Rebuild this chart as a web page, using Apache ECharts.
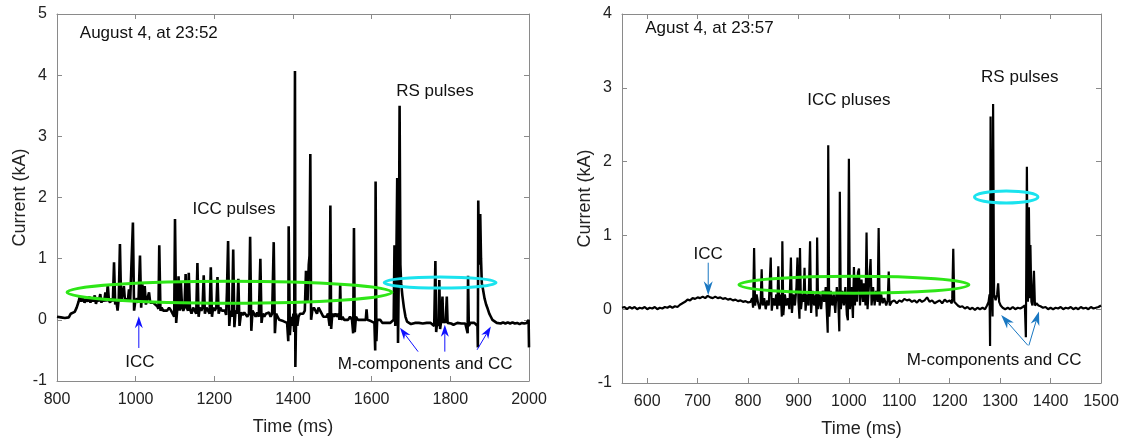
<!DOCTYPE html>
<html>
<head>
<meta charset="utf-8">
<script src="https://cdn.jsdelivr.net/npm/echarts@6/dist/echarts.min.js"></script>
<style>
html,body{margin:0;padding:0;background:#fff;}
#chart{width:1128px;height:443px;}
</style>
</head>
<body>
<div id="chart"></div>
<script>
// ---------------- DATA ----------------
// Left panel: August 4, at 23:52  [time (ms), current (kA)]
const leftData = [
[800,0.05],[805,0.08],[810,0.04],[815,0.06],[820,0.03],[825,0.05],[830,0.04],[835,0.1],[840,0.12],[845,0.13],[850,0.2],[855,0.3],[858,0.38],[862,0.3],[866,0.36],[870,0.28],[874,0.34],[878,0.3],[882,0.38],[885,0.28],[888,0.35],[892,0.3],[896,0.4],[899,0.26],[903,0.36],[906,0.3],[910,0.42],[913,0.28],[916,0.35],[920,0.3],[923,0.45],[926,0.3],[929,0.58],[932,0.32],[935,0.28],[938,0.35],[942,0.3],[945,0.94],[948,0.25],[951,0.3],[954,0.15],[957,0.35],[960,1.24],[963,0.3],[966,0.28],[970,0.55],[973,0.3],[976,0.35],[980,0.3],[983,0.5],[986,0.3],[990,0.28],[993,1.59],[996,0.15],[999,0.3],[1003,0.35],[1007,0.28],[1011,1.05],[1014,0.2],[1017,0.58],[1020,0.3],[1023,0.55],[1026,0.25],[1030,0.28],[1034,0.45],[1037,0.28],[1041,0.3],[1045,0.28],[1050,0.25],[1055,0.22],[1058,0.18],[1060,1.22],[1063,0.15],[1066,0.2],[1070,0.15],[1075,0.18],[1080,0.15],[1085,0.2],[1090,0.15],[1095,0.18],[1098,0.05],[1100,1.65],[1103,-0.05],[1106,0.2],[1109,0.71],[1112,0.15],[1115,0.6],[1118,0.2],[1121,0.15],[1124,0.2],[1127,0.75],[1130,0.2],[1133,0.15],[1135,0.77],[1138,0.18],[1142,0.1],[1146,0.2],[1150,0.15],[1154,0.1],[1157,0.93],[1160,0.05],[1163,0.2],[1167,0.15],[1170,0.2],[1173,0.73],[1176,0.1],[1180,0.2],[1184,0.15],[1188,0.1],[1191,0.86],[1194,0.05],[1197,0.2],[1201,0.15],[1205,0.2],[1208,0.7],[1211,0.1],[1215,0.2],[1219,0.15],[1223,0.18],[1227,0.15],[1230,0.08],[1232,0.45],[1235,1.29],[1238,-0.1],[1241,0.15],[1245,0.05],[1248,1.15],[1251,-0.12],[1254,0.15],[1258,0.1],[1261,0.67],[1264,-0.1],[1268,0.12],[1272,0.08],[1276,0.12],[1280,0.1],[1284,0.05],[1288,0.1],[1291,1.36],[1294,-0.18],[1297,0.15],[1301,0.1],[1305,0.05],[1309,0.12],[1313,0.05],[1317,1.0],[1320,-0.05],[1323,0.1],[1327,0.05],[1331,0.1],[1335,0.08],[1339,0.12],[1343,0.05],[1347,0.1],[1351,1.27],[1354,-0.22],[1357,0.1],[1361,0.05],[1365,0.0],[1370,0.0],[1375,-0.02],[1380,0.0],[1385,-0.05],[1388,-0.35],[1389,1.53],[1392,-0.25],[1395,0.05],[1398,-0.1],[1401,0.1],[1403,-0.2],[1405,4.07],[1406,-0.77],[1408,0.1],[1411,-0.1],[1414,0.05],[1418,0.1],[1422,0.12],[1426,0.1],[1430,0.15],[1433,0.8],[1435,0.83],[1437,0.3],[1440,0.9],[1442,1.05],[1444,2.71],[1446,0.0],[1449,0.15],[1453,0.2],[1457,0.15],[1461,0.1],[1465,0.2],[1469,0.15],[1473,0.1],[1477,0.05],[1481,0.08],[1485,0.05],[1489,0.1],[1493,-0.1],[1495,1.87],[1497,-0.15],[1500,0.1],[1504,0.05],[1508,0.1],[1512,0.05],[1516,0.1],[1518,0.0],[1520,0.58],[1522,0.0],[1526,0.05],[1530,0.0],[1535,0.03],[1540,0.0],[1545,0.05],[1550,0.0],[1553,-0.22],[1555,1.5],[1557,-0.2],[1560,0.05],[1565,0.0],[1570,0.03],[1575,0.0],[1580,0.02],[1585,0.0],[1587,0.17],[1589,0.0],[1593,0.02],[1598,-0.02],[1603,0.0],[1607,-0.05],[1609,-0.5],[1610,2.26],[1612,-0.35],[1614,0.0],[1618,-0.02],[1622,0.0],[1627,-0.05],[1632,-0.02],[1637,-0.05],[1642,-0.02],[1647,-0.05],[1652,-0.03],[1656,0.0],[1658,1.22],[1660,-0.1],[1662,0.5],[1665,2.32],[1667,-0.38],[1669,0.8],[1671,3.5],[1673,0.9],[1675,0.6],[1678,0.4],[1682,0.2],[1686,0.05],[1690,-0.03],[1695,-0.05],[1700,-0.07],[1710,-0.05],[1715,-0.08],[1720,-0.05],[1725,-0.08],[1730,-0.06],[1735,-0.08],[1740,-0.05],[1745,-0.07],[1750,-0.05],[1755,-0.06],[1759,-0.1],[1762,0.96],[1764,-0.2],[1767,0.0],[1770,-0.1],[1772,0.65],[1774,-0.15],[1777,0.0],[1780,0.38],[1782,-0.05],[1786,0.0],[1788,-0.05],[1791,0.38],[1793,-0.05],[1797,-0.08],[1802,-0.06],[1808,-0.08],[1813,-0.06],[1818,-0.05],[1823,-0.08],[1828,-0.06],[1833,-0.08],[1838,-0.06],[1842,-0.08],[1844,-0.22],[1845,0.72],[1847,-0.1],[1851,-0.05],[1856,-0.07],[1861,-0.05],[1866,-0.06],[1869,-0.1],[1870,-0.45],[1871,1.95],[1873,0.9],[1876,1.73],[1878,1.0],[1880,0.6],[1883,0.5],[1887,0.35],[1891,0.25],[1895,0.18],[1899,0.1],[1903,0.05],[1907,0.0],[1912,-0.03],[1918,-0.05],[1923,-0.03],[1928,-0.06],[1934,-0.04],[1940,-0.06],[1946,-0.04],[1952,-0.06],[1958,-0.04],[1964,-0.06],[1970,-0.05],[1976,-0.07],[1982,-0.05],[1988,-0.06],[1994,-0.05],[1998,-0.05],[1999,0.0],[2000,-0.45]
];
// Right panel: Agust 4, at 23:57  [time (ms), current (kA)]
const rightData = [
[550,0.02],[555,0.03],[560,0.0],[565,0.03],[570,0.01],[575,0.03],[580,0.0],[585,0.02],[590,0.01],[595,0.03],[600,0.0],[605,0.02],[610,0.01],[615,0.03],[620,0.0],[625,0.02],[630,0.01],[635,0.03],[640,0.02],[645,0.04],[650,0.02],[655,0.04],[660,0.03],[665,0.06],[670,0.08],[675,0.1],[680,0.13],[685,0.12],[690,0.15],[695,0.14],[700,0.16],[705,0.15],[710,0.17],[715,0.15],[720,0.18],[725,0.16],[730,0.15],[735,0.17],[740,0.15],[745,0.16],[750,0.14],[755,0.15],[760,0.13],[765,0.14],[770,0.12],[775,0.13],[780,0.11],[785,0.12],[790,0.1],[795,0.11],[800,0.09],[805,0.1],
[808,0.15],[810,0.02],[812,0.83],[814,0.05],[817,0.2],[820,0.08],[823,0.0],[825,0.1],[827,0.54],[829,0.05],[832,0.15],[835,0.0],[838,0.12],[841,0.05],[843,0.35],[845,0.7],[847,-0.02],[850,0.15],[853,0.05],[856,0.2],[858,0.0],[860,0.58],[862,0.05],[865,0.2],[867,-0.1],[868,0.92],[870,-0.08],[873,0.2],[876,0.05],[879,0.15],[882,0.0],[885,0.7],[887,-0.05],[890,0.2],[893,0.05],[896,0.3],[898,0.7],[900,0.1],[902,-0.13],[903,0.83],[905,0.0],[908,0.2],[910,0.1],[912,0.56],[914,-0.02],[917,0.2],[920,0.05],[923,0.92],[925,-0.05],[928,0.25],[931,0.05],[934,0.2],[936,-0.1],[937,0.97],[939,0.0],[942,0.2],[945,0.0],[948,0.25],[951,0.1],[954,0.3],[956,0.0],[958,-0.32],[959,2.22],[961,-0.1],[964,0.25],[967,0.05],[970,0.2],[973,-0.05],[976,0.3],[979,0.1],[981,-0.3],[982,1.59],[984,0.0],[987,0.25],[990,0.05],[993,0.3],[996,-0.08],[998,-0.15],[1000,2.04],[1002,0.0],[1005,0.3],[1008,-0.12],[1010,0.57],[1012,0.05],[1014,0.45],[1016,0.1],[1018,0.5],[1020,0.55],[1022,0.05],[1025,0.4],[1028,0.1],[1030,0.35],[1033,0.05],[1035,1.04],[1037,0.0],[1040,0.35],[1043,0.68],[1045,0.05],[1048,0.3],[1051,0.05],[1054,0.25],[1057,0.1],[1059,1.1],[1061,0.05],[1064,0.2],[1067,0.08],[1070,0.15],[1074,0.05],[1077,0.12],[1079,0.51],[1081,0.05],[1085,0.1],[1090,0.12],[1095,0.08],[1100,0.12],[1105,0.1],[1110,0.14],[1115,0.12],[1120,0.13],[1125,0.1],[1130,0.12],[1135,0.09],[1140,0.13],[1145,0.1],[1150,0.12],[1155,0.16],[1160,0.1],[1165,0.12],[1170,0.08],[1175,0.1],[1180,0.12],[1185,0.08],[1190,0.13],[1195,0.1],[1200,0.12],[1204,0.08],[1205,0.15],[1207,0.82],[1209,0.1],[1212,0.08],[1216,0.05],[1220,0.03],[1225,0.04],[1230,0.01],[1235,0.03],[1240,0.0],[1245,0.02],[1250,-0.01],[1255,0.02],[1260,0.0],[1265,0.02],[1270,0.0],[1274,0.05],[1277,0.1],[1279,0.2],[1280,-0.5],[1281,2.61],[1283,0.3],[1285,-0.1],[1286,2.78],[1288,0.2],[1291,0.12],[1294,0.2],[1296,0.35],[1298,0.1],[1301,0.05],[1305,0.02],[1310,0.0],[1315,0.02],[1320,0.0],[1325,0.03],[1330,0.0],[1335,0.02],[1340,0.01],[1345,0.03],[1349,0.05],[1351,-0.38],[1353,1.93],[1355,0.1],[1357,1.38],[1359,0.15],[1360,0.87],[1362,0.1],[1364,0.05],[1367,0.52],[1369,0.05],[1372,0.08],[1376,0.05],[1380,0.04],[1385,0.02],[1390,0.03],[1395,0.0],[1400,0.02],[1405,0.0],[1410,0.02],[1415,0.01],[1420,0.03],[1425,0.0],[1430,0.02],[1435,0.01],[1440,0.03],[1445,0.0],[1450,0.02],[1455,0.0],[1460,0.03],[1465,0.01],[1470,0.02],[1475,0.0],[1480,0.03],[1485,0.01],[1490,0.02],[1495,0.03],[1500,0.05]
];
// Tick labels
const leftXTicks = [800,1000,1200,1400,1600,1800,2000];
const leftYTicks = [-1,0,1,2,3,4,5];
const rightXTicks = [600,700,800,900,1000,1100,1200,1300,1400,1500];
const rightYTicks = [-1,0,1,2,3,4];

// Annotations (in data coordinates)
const leftTexts = [
  {t:'August 4, at 23:52', x:858, y:4.69, align:'left'},
  {t:'ICC pulses', x:1250, y:1.81, align:'center'},
  {t:'RS pulses', x:1761, y:3.74, align:'center'},
  {t:'ICC', x:1011, y:-0.69, align:'center'},
  {t:'M-components and CC', x:1736, y:-0.72, align:'center'}
];
const rightTexts = [
  {t:'Agust 4, at 23:57', x:596, y:3.80, align:'left'},
  {t:'ICC pluses', x:1000, y:2.83, align:'center'},
  {t:'RS pulses', x:1339, y:3.14, align:'center'},
  {t:'ICC', x:721, y:0.74, align:'center'},
  {t:'M-components and CC', x:1288, y:-0.69, align:'center'}
];
const leftEllipses = [
  {cx:1238.5, cy:0.45, rx:413, ry:0.18, c:'#2ee617'},
  {cx:1774, cy:0.61, rx:142, ry:0.09, c:'#1ae3ee'}
];
const rightEllipses = [
  {cx:1010, cy:0.33, rx:228, ry:0.115, c:'#2ee617'},
  {cx:1312, cy:1.52, rx:63, ry:0.08, c:'#1ae3ee'}
];
const leftArrows = [
  [1008,-0.46,1008,0.06],
  [1718,-0.52,1672,-0.13],
  [1786,-0.52,1786,-0.08],
  [1868,-0.49,1903,-0.11]
];
const rightArrows = [
  [721,0.63,721,0.19],
  [1355,-0.49,1302,-0.08],
  [1357,-0.49,1377,-0.03]
];

// ---------------- CHART ----------------
const FONT = "'Liberation Sans', Arial, sans-serif";
const AXC = '#8a8a8a';
const TXT = '#222';
const plain = v => String(v);

function xAxisMain(grid, min, max, ticks, interval){
  const a = {
    gridIndex:grid, type:'value', min:min, max:max,
    name:'Time (ms)', nameLocation:'middle', nameGap:37,
    nameTextStyle:{fontFamily:FONT, fontSize:18, color:TXT},
    axisLine:{onZero:false, lineStyle:{color:AXC, width:1}},
    axisTick:{inside:true, length:5, lineStyle:{color:AXC}},
    axisLabel:{fontFamily:FONT, fontSize:16, color:TXT, margin:11, formatter:plain},
    splitLine:{show:false}
  };
  if(interval){ a.interval = interval; }
  else { a.axisLabel.customValues = ticks; a.axisTick.customValues = ticks; }
  return a;
}
function xAxisTop(grid, min, max, ticks, interval){
  const a = {
    gridIndex:grid, type:'value', min:min, max:max, position:'top',
    axisLine:{onZero:false, lineStyle:{color:AXC, width:1}},
    axisTick:{inside:true, length:5, lineStyle:{color:AXC}},
    axisLabel:{show:false}, splitLine:{show:false}
  };
  if(interval){ a.interval = interval; }
  else { a.axisTick.customValues = ticks; a.axisLabel.customValues = ticks; }
  return a;
}
function yAxisMain(grid, min, max){
  return {
    gridIndex:grid, type:'value', min:min, max:max, interval:1,
    name:'Current (kA)', nameLocation:'middle', nameGap:28,
    nameTextStyle:{fontFamily:FONT, fontSize:18, color:TXT},
    axisLine:{show:true, onZero:false, lineStyle:{color:AXC, width:1}},
    axisTick:{show:true, inside:true, length:5, lineStyle:{color:AXC}},
    axisLabel:{fontFamily:FONT, fontSize:16, color:TXT, margin:10, formatter:plain},
    splitLine:{show:false}
  };
}
function yAxisRight(grid, min, max){
  return {
    gridIndex:grid, type:'value', min:min, max:max, interval:1, position:'right',
    axisLine:{show:true, onZero:false, lineStyle:{color:AXC, width:1}},
    axisTick:{show:true, inside:true, length:5, lineStyle:{color:AXC}},
    axisLabel:{show:false}, splitLine:{show:false}
  };
}

function textSeries(xi, yi, arr){
  return {
    type:'custom', xAxisIndex:xi, yAxisIndex:yi, silent:true, z:10, clip:false,
    data: arr.map(d=>[d.x, d.y]),
    renderItem:function(params, api){
      const d = arr[params.dataIndex];
      const p = api.coord([api.value(0), api.value(1)]);
      return {type:'text', x:p[0], y:p[1],
        style:{text:d.t, fill:'#111', fontSize:17, fontFamily:FONT, align:d.align, verticalAlign:'middle'}};
    }
  };
}
function ellipseSeries(xi, yi, arr){
  return {
    type:'custom', xAxisIndex:xi, yAxisIndex:yi, silent:true, z:8, clip:false,
    data: arr.map(d=>[d.cx, d.cy, d.rx, d.ry]),
    renderItem:function(params, api){
      const d = arr[params.dataIndex];
      const p = api.coord([api.value(0), api.value(1)]);
      const s = api.size([api.value(2), api.value(3)]);
      return {type:'ellipse', shape:{cx:p[0], cy:p[1], rx:s[0], ry:s[1]},
        style:{fill:null, stroke:d.c, lineWidth:3}};
    }
  };
}
function arrowSeries(xi, yi, arr, color, lw, hl, hw){
  return {
    type:'custom', xAxisIndex:xi, yAxisIndex:yi, silent:true, z:9, clip:false,
    data: arr,
    renderItem:function(params, api){
      const a = api.coord([api.value(0), api.value(1)]);
      const b = api.coord([api.value(2), api.value(3)]);
      const dx = b[0]-a[0], dy = b[1]-a[1];
      const L = Math.sqrt(dx*dx+dy*dy);
      const ux = dx/L, uy = dy/L, nx = -uy, ny = ux;
      const base = [b[0]-ux*hl, b[1]-uy*hl];
      const notch = [b[0]-ux*hl*0.7, b[1]-uy*hl*0.7];
      return {type:'group', children:[
        {type:'line', shape:{x1:a[0], y1:a[1], x2:notch[0], y2:notch[1]}, style:{stroke:color, lineWidth:lw}},
        {type:'polygon', shape:{points:[b, [base[0]+nx*hw/2, base[1]+ny*hw/2], notch, [base[0]-nx*hw/2, base[1]-ny*hw/2]]},
          style:{fill:color, stroke:null}}
      ]};
    }
  };
}

const chart = echarts.init(document.getElementById('chart'), null, {renderer:'canvas'});
chart.setOption({
  animation:false,
  backgroundColor:'#fff',
  grid:[
    {left:57, top:14, width:472, height:367},
    {left:622, top:14, width:479, height:371}
  ],
  xAxis:[
    xAxisMain(0, 800, 2000, leftXTicks, 200),
    xAxisTop(0, 800, 2000, leftXTicks, 200),
    xAxisMain(1, 550, 1500, rightXTicks, null),
    xAxisTop(1, 550, 1500, rightXTicks, null)
  ],
  yAxis:[
    yAxisMain(0, leftYTicks[0], leftYTicks[leftYTicks.length-1]),
    yAxisRight(0, leftYTicks[0], leftYTicks[leftYTicks.length-1]),
    yAxisMain(1, rightYTicks[0], rightYTicks[rightYTicks.length-1]),
    yAxisRight(1, rightYTicks[0], rightYTicks[rightYTicks.length-1])
  ],
  series:[
    {type:'line', xAxisIndex:0, yAxisIndex:0, data:leftData, showSymbol:false, symbol:'none',
     lineStyle:{color:'#000', width:2.6}, z:5, silent:true},
    {type:'line', xAxisIndex:2, yAxisIndex:2, data:rightData, showSymbol:false, symbol:'none',
     lineStyle:{color:'#000', width:2.2}, z:5, silent:true},
    ellipseSeries(0, 0, leftEllipses),
    ellipseSeries(2, 2, rightEllipses),
    arrowSeries(0, 0, leftArrows, '#1010ff', 1, 12, 8),
    arrowSeries(2, 2, rightArrows, '#1a78c2', 1, 14, 9),
    textSeries(0, 0, leftTexts),
    textSeries(2, 2, rightTexts)
  ]
});
</script>
</body>
</html>
